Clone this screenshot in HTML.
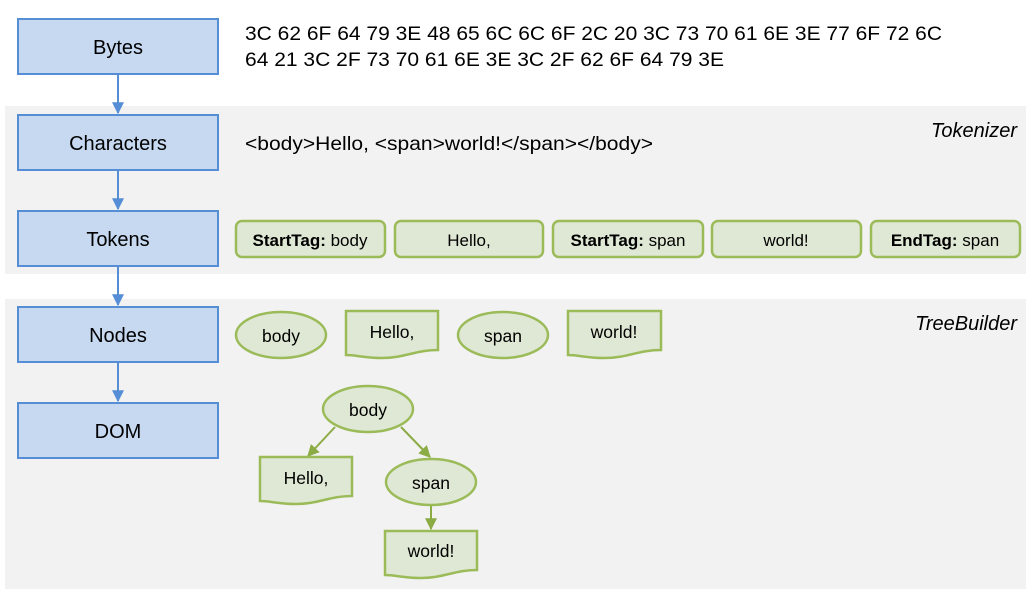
<!DOCTYPE html>
<html><head><meta charset="utf-8"><style>
html,body{margin:0;padding:0;background:#fff;}
svg{display:block;font-family:"Liberation Sans",Arial,sans-serif;}
</style></head><body>
<svg width="1032" height="592" viewBox="0 0 1032 592" xmlns="http://www.w3.org/2000/svg">
<defs>
<marker id="ab" viewBox="0 0 10 10" refX="9" refY="5" markerWidth="6" markerHeight="6" orient="auto"><path d="M0,0 L10,5 L0,10 Z" fill="#558ed5"/></marker>
<marker id="ag" viewBox="0 0 10 10" refX="9" refY="5" markerWidth="6" markerHeight="6" orient="auto"><path d="M0,0 L10,5 L0,10 Z" fill="#8bab45"/></marker>
</defs>
<rect x="5" y="106" width="1021" height="168" fill="#f2f2f2"/>
<rect x="5" y="299" width="1021" height="290" fill="#f2f2f2"/>
<g font-style="italic" font-size="20" text-anchor="end" fill="#000">
<text x="1017" y="137">Tokenizer</text>
<text x="1017" y="330">TreeBuilder</text>
</g>
<g stroke="#558ed5" stroke-width="2" fill="none" marker-end="url(#ab)">
<line x1="118" y1="75" x2="118" y2="113"/>
<line x1="118" y1="171" x2="118" y2="209"/>
<line x1="118" y1="267" x2="118" y2="305"/>
<line x1="118" y1="363" x2="118" y2="401"/>
</g>
<g fill="#c6d9f1" stroke="#558ed5" stroke-width="2">
<rect x="18" y="19" width="200" height="55"/>
<rect x="18" y="115" width="200" height="55"/>
<rect x="18" y="211" width="200" height="55"/>
<rect x="18" y="307" width="200" height="55"/>
<rect x="18" y="403" width="200" height="55"/>
</g>
<g font-size="20" text-anchor="middle" fill="#000">
<text x="118" y="54">Bytes</text>
<text x="118" y="150">Characters</text>
<text x="118" y="246">Tokens</text>
<text x="118" y="342">Nodes</text>
<text x="118" y="438">DOM</text>
</g>
<g font-size="19.5" fill="#000">
<text x="245" y="40" textLength="697" lengthAdjust="spacingAndGlyphs">3C 62 6F 64 79 3E 48 65 6C 6C 6F 2C 20 3C 73 70 61 6E 3E 77 6F 72 6C</text>
<text x="245" y="66" textLength="479" lengthAdjust="spacingAndGlyphs">64 21 3C 2F 73 70 61 6E 3E 3C 2F 62 6F 64 79 3E</text>
<text x="245" y="150" textLength="408" lengthAdjust="spacingAndGlyphs">&lt;body&gt;Hello, &lt;span&gt;world!&lt;/span&gt;&lt;/body&gt;</text>
</g>
<g fill="#dfe8d4" stroke="#9bbb59" stroke-width="2.5">
<rect x="236" y="221" width="149" height="36" rx="6"/>
<rect x="395" y="221" width="148" height="36" rx="6"/>
<rect x="553" y="221" width="150" height="36" rx="6"/>
<rect x="712" y="221" width="149" height="36" rx="6"/>
<rect x="871" y="221" width="149" height="36" rx="6"/>
</g>
<g font-size="17" text-anchor="middle" fill="#000">
<text x="310" y="246"><tspan font-weight="bold">StartTag:</tspan> body</text>
<text x="469" y="246">Hello,</text>
<text x="628" y="246"><tspan font-weight="bold">StartTag:</tspan> span</text>
<text x="786" y="246">world!</text>
<text x="945" y="246"><tspan font-weight="bold">EndTag:</tspan> span</text>
</g>
<g stroke="#8bab45" stroke-width="2" fill="none" marker-end="url(#ag)">
<line x1="335" y1="427" x2="308" y2="456"/>
<line x1="401" y1="427" x2="430" y2="457"/>
<line x1="431" y1="506" x2="431" y2="529"/>
</g>
<g fill="#dfe8d4" stroke="#9bbb59" stroke-width="2.5">
<ellipse cx="281" cy="335" rx="45" ry="23"/>
<ellipse cx="503" cy="335" rx="45" ry="23"/>
<ellipse cx="368" cy="409" rx="45" ry="23"/>
<ellipse cx="431" cy="482" rx="45" ry="23"/>
<path d="M346,311 H438 V350 C415,350 405,358 382,358 C365,358 356,355 346,355 Z"/>
<path d="M568,311 H661 V350 C638,350 628,358 604,358 C587,358 578,355 568,355 Z"/>
<path d="M260,457 H352 V496 C329,496 319,504 296,504 C279,504 270,501 260,501 Z"/>
<path d="M385,531 H477 V570 C454,570 444,578 421,578 C404,578 395,575 385,575 Z"/>
</g>
<g font-size="17.5" text-anchor="middle" fill="#000">
<text x="281" y="342">body</text>
<text x="392" y="338">Hello,</text>
<text x="503" y="342">span</text>
<text x="614" y="338">world!</text>
<text x="368" y="416">body</text>
<text x="306" y="484">Hello,</text>
<text x="431" y="489">span</text>
<text x="431" y="557">world!</text>
</g>
</svg>
</body></html>
